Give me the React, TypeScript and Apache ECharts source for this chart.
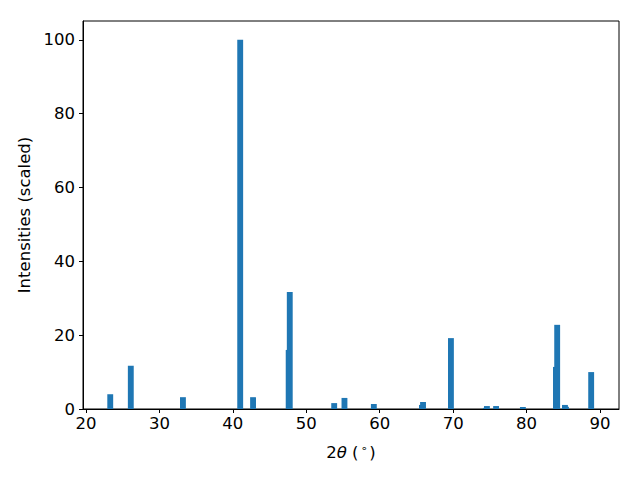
import React, { useEffect, useRef } from "react";
import * as echarts from "echarts";

const peakPositions = [23.3, 26.1, 33.2, 41.0, 42.75, 47.6, 47.75, 53.8, 55.2, 59.2, 65.75, 65.9, 69.7, 74.45, 74.6, 75.85, 79.5, 84.0, 84.17, 85.23, 85.37, 88.8];
const intensities = [4.0, 11.7, 3.2, 100, 3.2, 16.0, 31.7, 1.6, 3.0, 1.35, 1.1, 1.9, 19.2, 0.3, 0.8, 0.8, 0.55, 11.4, 22.8, 1.1, 0.6, 10.0];
const xTicks = [20, 30, 40, 50, 60, 70, 80, 90];
const yTicks = [0, 20, 40, 60, 80, 100];
const barWidth = 0.8;

const FONT = "DejaVu Sans";
const FS = 16.5;

export default function App() {
  const ref = useRef<HTMLDivElement>(null);
  useEffect(() => {
    if (!ref.current) return;
    const chart = echarts.init(ref.current, null, { renderer: "svg" });
    const data = peakPositions.map((x, i) => [x, intensities[i]]);
    chart.setOption({
      animation: false,
      textStyle: { fontFamily: FONT },
      grid: {
        left: 83,
        right: 21,
        top: 21,
        bottom: 71,
        show: true,
        borderColor: "#000",
        borderWidth: 1,
        backgroundColor: "transparent",
      },
      xAxis: {
        type: "value",
        min: 19.59,
        max: 92.59,
        name: "{n|2}{i|θ}{n| (}{s|∘}{n|)}",
        nameLocation: "middle",
        nameGap: 34,
        nameTextStyle: {
          rich: {
            n: { fontFamily: FONT, fontSize: FS, color: "#000" },
            i: { fontFamily: FONT, fontSize: FS, fontStyle: "italic", color: "#000" },
            s: { fontFamily: FONT, fontSize: 11, color: "#000", verticalAlign: "top", padding: [0, 2, 8, 2] },
          },
        },
        axisLine: { show: true, onZero: false, lineStyle: { color: "#000", width: 1 } },
        axisTick: { show: true, length: 4, customValues: xTicks, lineStyle: { color: "#000" } },
        axisLabel: {
          customValues: xTicks,
          color: "#000",
          fontSize: FS,
          fontFamily: FONT,
          margin: 6,
          formatter: (v: number) => String(Math.round(v)),
        },
        splitLine: { show: false },
      },
      yAxis: {
        type: "value",
        min: 0,
        max: 105.1,
        name: "Intensities (scaled)",
        nameLocation: "middle",
        nameGap: 50,
        nameTextStyle: { fontFamily: FONT, fontSize: FS, color: "#000" },
        axisLine: { show: true, onZero: false, lineStyle: { color: "#000", width: 1 } },
        axisTick: { show: true, length: 4, customValues: yTicks, lineStyle: { color: "#000" } },
        axisLabel: {
          customValues: yTicks,
          color: "#000",
          fontSize: FS,
          fontFamily: FONT,
          margin: 8,
        },
        splitLine: { show: false },
      },
      series: [
        {
          type: "custom",
          coordinateSystem: "cartesian2d",
          encode: { x: 0, y: 1 },
          data,
          clip: true,
          renderItem: (params: any, api: any) => {
            const x = api.value(0);
            const h = api.value(1);
            const p0 = api.coord([x - barWidth / 2, h]);
            const p1 = api.coord([x + barWidth / 2, 0]);
            return {
              type: "rect",
              shape: { x: p0[0], y: p0[1], width: p1[0] - p0[0], height: p1[1] - p0[1] },
              style: { fill: "#1f77b4" },
            };
          },
        },
      ],
    });
    return () => chart.dispose();
  }, []);
  return <div ref={ref} style={{ width: 640, height: 480, margin: -8 }} />;
}
